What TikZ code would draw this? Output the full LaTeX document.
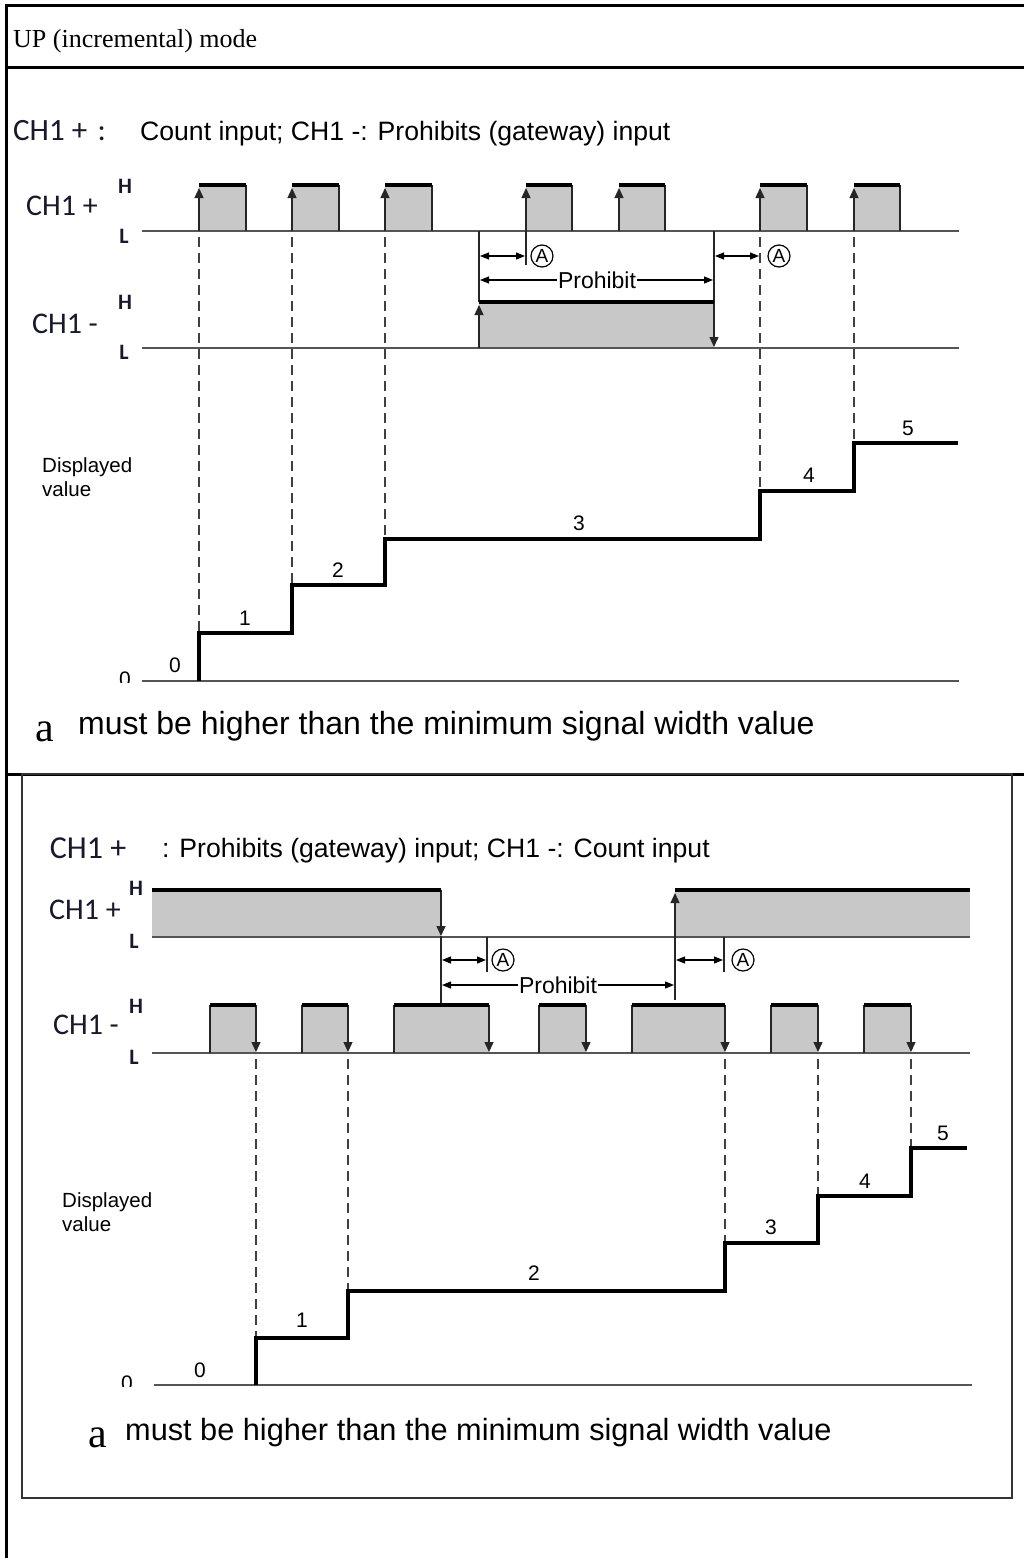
\documentclass[tikz,border=0pt]{standalone}
\usepackage{fontspec}
\setmainfont{Liberation Sans}
\newfontfamily\tnrfont{Liberation Serif}
\newfontfamily\calfont{Carlito}
\usetikzlibrary{arrows.meta}
\definecolor{pfill}{RGB}{200,200,200}
\definecolor{basecol}{RGB}{85,85,85}
\definecolor{chcol}{RGB}{25,25,45}
\newcommand{\fsz}[1]{\fontsize{#1}{#1}\selectfont}
\begin{document}
\begin{tikzpicture}[x=1pt,y=-1pt,
  frameln/.style={line width=3pt,black},
  baseln/.style={line width=2pt,draw=basecol},
  hiln/.style={line width=4pt,black},
  edgeln/.style={line width=1.3pt,draw=black!85},
  guide/.style={line width=1.2pt,draw=black!75,dash pattern=on 10pt off 6pt,dash phase=10pt},
  stair/.style={line width=4pt,black},
  tipped/.style={-{Triangle[width=9pt,length=10pt]}},
  dimarr/.style={line width=1.2pt,{Triangle[width=7pt,length=9pt]}-{Triangle[width=7pt,length=9pt]}},
  chlbl/.style={font=\calfont\fsz{30},text=chcol,inner sep=0},
  hllbl/.style={font=\calfont\bfseries\fsz{22},text=chcol,inner sep=0},
  numlbl/.style={font=\fsz{21},inner sep=0},
  circA/.style={circle,draw,line width=1.2pt,inner sep=0,minimum size=22pt,font=\fsz{19}},
  prohib/.style={fill=white,inner sep=1pt,font=\fsz{23}},
  dvlbl/.style={font=\fontsize{20.5}{24.5}\selectfont,align=left,inner sep=0,anchor=north west},
  notea/.style={font=\tnrfont\fsz{42},inner sep=0,anchor=base west},
  notetxt/.style={font=\fsz{32},inner sep=0,anchor=base west},
  headtxt/.style={font=\fsz{26.6},inner sep=0,anchor=base west},
]
\useasboundingbox (0,0) rectangle (1024,1558);
\fill[white] (0,0) rectangle (1024,1558);
% ---------- table frame ----------
\draw[frameln] (1024,5) -- (6,5) -- (6,1558);
\draw[frameln] (6,67) -- (1024,67);
\draw[frameln] (6,774) -- (1024,774);
\draw[line width=1.5pt,black!80] (22,774) rectangle (1012,1498);
\node[font=\tnrfont\fsz{26},inner sep=0,anchor=base west] (title) at (13,47) {UP (incremental) mode};

% ================= first diagram =================
\node[font=\calfont\fsz{31},text=chcol,inner sep=0,anchor=base west] (hd1a) at (13,140) {CH1 +\,\,:};
\node[headtxt] (hd1b) at (140,140) {Count input; CH1 -: Prohibits (gateway) input};

% CH1+ pulses
\foreach \a/\b in {199/246,292/339,385/432,526/572,619/665,760/807,854/900}
  \fill[pfill] (\a,185) rectangle (\b,231);
\fill[pfill] (479,302) rectangle (714,348);
\draw[baseln] (142,231) -- (959,231);
\draw[baseln] (142,348) -- (959,348);
\foreach \a/\b in {199/246,292/339,385/432,619/665,760/807,854/900}{
  \draw[edgeln,tipped] (\a,231) -- (\a,188);
  \draw[edgeln] (\b,185) -- (\b,231);
}
\draw[edgeln,tipped] (526,265) -- (526,188);
\draw[edgeln] (572,185) -- (572,231);
\foreach \a/\b in {199/246,292/339,385/432,526/572,619/665,760/807,854/900}
  \draw[hiln] (\a,185) -- (\b,185);
% CH1- prohibit pulse
\draw[edgeln] (479,231) -- (479,302);
\draw[edgeln,tipped] (479,348) -- (479,305);
\draw[edgeln] (714,231) -- (714,302);
\draw[edgeln,tipped] (714,302) -- (714,347);
\draw[hiln] (479,302) -- (714,302);
% dimensions
\draw[dimarr] (480,256) -- (525,256);
\node[circA] (a1) at (542,256) {A};
\draw[dimarr] (715,256) -- (759,256);
\node[circA] (a2) at (779,256) {A};
\draw[dimarr] (480,280) -- (713,280);
\node[prohib] (pr1) at (597,280) {Prohibit};
% guides
\draw[guide] (199,231) -- (199,633);
\draw[guide] (292,231) -- (292,585);
\draw[guide] (385,231) -- (385,539);
\draw[guide] (760,231) -- (760,491);
\draw[guide] (854,231) -- (854,443);
% displayed value
\draw[baseln] (142,681) -- (959,681);
\draw[stair] (199,681) -- (199,633) -- (292,633) -- (292,585) -- (385,585) -- (385,539)
  -- (760,539) -- (760,491) -- (854,491) -- (854,443) -- (958,443);
\node[numlbl] (v10) at (175,665) {0};
\node[numlbl] (v11) at (245,618) {1};
\node[numlbl] (v12) at (338,570) {2};
\node[numlbl] (v13) at (579,523) {3};
\node[numlbl] (v14) at (809,475) {4};
\node[numlbl] (v15) at (908,428) {5};
\begin{scope}
  \clip (110,660) rectangle (140,682);
  \node[numlbl,anchor=north] (z1) at (125,672) {0};
\end{scope}
\node[dvlbl] (dv1) at (42,457) {Displayed\\value};
% labels
\node[chlbl] (c1p) at (62,206) {CH1 +};
\node[hllbl] (h1p) at (125,186) {H};
\node[hllbl] (l1p) at (124,236) {L};
\node[chlbl] (c1m) at (65,324) {CH1 -};
\node[hllbl] (h1m) at (125,302) {H};
\node[hllbl] (l1m) at (124,352) {L};
\node[notea] (na1) at (35,741) {a};
\node[notetxt] (nt1) at (78,734) {must be higher than the minimum signal width value};

% ================= second diagram =================
\node[chlbl,font=\calfont\fsz{32}] (hd2a) at (88,848) {CH1 +};
\node[headtxt] (hd2b) at (162,857) {: Prohibits (gateway) input; CH1 -: Count input};

\fill[pfill] (152,890) rectangle (441,937);
\fill[pfill] (675,890) rectangle (970,937);
\foreach \a/\b in {210/256,302/348,394/489,539/586,632/725,771/818,864/911}
  \fill[pfill] (\a,1005) rectangle (\b,1053);
\draw[baseln] (152,937) -- (970,937);
\draw[baseln] (152,1053) -- (970,1053);
% CH1+ edges
\draw[edgeln,tipped] (441,890) -- (441,936);
\draw[edgeln] (441,936) -- (441,1005);
\draw[edgeln,tipped] (675,1000) -- (675,893);
\draw[hiln] (152,890) -- (441,890);
\draw[hiln] (675,890) -- (970,890);
% CH1- pulses
\foreach \a/\b in {210/256,302/348,394/489,539/586,632/725,771/818,864/911}{
  \draw[edgeln] (\a,1005) -- (\a,1053);
  \draw[edgeln,tipped] (\b,1005) -- (\b,1052);
  \draw[hiln] (\a,1005) -- (\b,1005);
}
% dimensions
\draw[edgeln] (487,937) -- (487,972);
\draw[edgeln] (724,937) -- (724,972);
\draw[dimarr] (442,960) -- (486,960);
\node[circA] (a3) at (503,960) {A};
\draw[dimarr] (676,960) -- (723,960);
\node[circA] (a4) at (743,960) {A};
\draw[dimarr] (442,985) -- (674,985);
\node[prohib] (pr2) at (558,985) {Prohibit};
% guides
\draw[guide] (256,1053) -- (256,1338);
\draw[guide] (348,1053) -- (348,1291);
\draw[guide] (725,1053) -- (725,1243);
\draw[guide] (818,1053) -- (818,1196);
\draw[guide] (911,1053) -- (911,1148);
% displayed value
\draw[baseln] (154,1385) -- (972,1385);
\draw[stair] (256,1385) -- (256,1338) -- (348,1338) -- (348,1291) -- (725,1291) -- (725,1243)
  -- (818,1243) -- (818,1196) -- (911,1196) -- (911,1148) -- (967,1148);
\node[numlbl] (v20) at (200,1370) {0};
\node[numlbl] (v21) at (302,1320) {1};
\node[numlbl] (v22) at (534,1273) {2};
\node[numlbl] (v23) at (771,1227) {3};
\node[numlbl] (v24) at (865,1181) {4};
\node[numlbl] (v25) at (943,1133) {5};
\begin{scope}
  \clip (110,1360) rectangle (145,1386);
  \node[numlbl,anchor=north] (z2) at (127,1376) {0};
\end{scope}
\node[dvlbl] (dv2) at (62,1192) {Displayed\\value};
\node[chlbl] (c2p) at (85,910) {CH1 +};
\node[hllbl] (h2p) at (136,888) {H};
\node[hllbl] (l2p) at (134,941) {L};
\node[chlbl] (c2m) at (86,1025) {CH1 -};
\node[hllbl] (h2m) at (136,1006) {H};
\node[hllbl] (l2m) at (134,1057) {L};
\node[notea] (na2) at (88,1447) {a};
\node[notetxt,font=\fsz{30.7}] (nt2) at (125,1440) {must be higher than the minimum signal width value};
\end{tikzpicture}
\end{document}
